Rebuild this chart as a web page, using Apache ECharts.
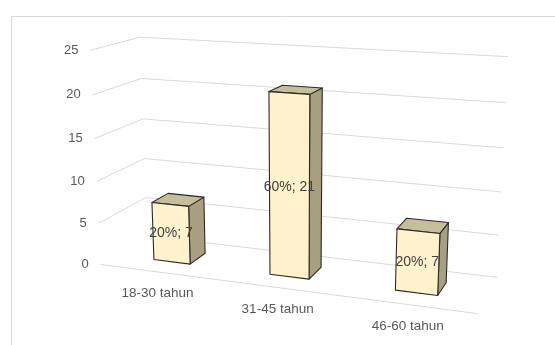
<!DOCTYPE html>
<html><head><meta charset="utf-8">
<script src="https://cdn.jsdelivr.net/npm/echarts@6/dist/echarts.min.js"></script>
<style>html,body{margin:0;padding:0;background:#fff}#c{width:555px;height:345px}</style>
</head><body><div id="c"></div>
<script>
// ---- data ----
const categories = ['18-30 tahun', '31-45 tahun', '46-60 tahun'];
const values = [7, 21, 7];
const percents = ['20%', '60%', '20%'];
const ticks = [0, 5, 10, 15, 20, 25];

// ---- layout: where the corners of the 3D plot box land on screen ----
// [u (category axis 0..1), v (value axis 0..1), w (depth 0 front..1 back), px, py]
const frameAnchors = [
  [0, 0, 0, 100.7, 264.5],
  [0, 1, 0, 90.0, 50.7],
  [0, 0.6, 0, 95.0, 138.3],
  [0, 1, 1, 140.0, 37.3],
  [0, 0.6, 1, 143.3, 118.3],
  [0, 0, 1, 147.0, 236.0],
  [1, 1, 1, 508.3, 56.7],
  [1, 0.6, 1, 503.3, 147.7],
  [1, 0, 1, 496.7, 277.7],
  [1, 0, 0, 477.3, 313.3]
];
const barWidthRatio = 0.32;
const barFront = 0.32, barBack = 0.68;

// ---- projective camera fitted to the frame (DLT, least squares) ----
function solveLinear(M, b) {
  const n = b.length;
  const A = M.map((r, i) => r.concat([b[i]]));
  for (let c = 0; c < n; c++) {
    let p = c;
    for (let r = c + 1; r < n; r++) if (Math.abs(A[r][c]) > Math.abs(A[p][c])) p = r;
    [A[c], A[p]] = [A[p], A[c]];
    for (let r = c + 1; r < n; r++) {
      const f = A[r][c] / A[c][c];
      for (let k = c; k <= n; k++) A[r][k] -= f * A[c][k];
    }
  }
  const x = new Array(n).fill(0);
  for (let r = n - 1; r >= 0; r--) {
    let s = A[r][n];
    for (let k = r + 1; k < n; k++) s -= A[r][k] * x[k];
    x[r] = s / A[r][r];
  }
  return x;
}
const S = 500;
const P = (function () {
  const rows = [], rhs = [];
  frameAnchors.forEach(([X, Y, Z, px, py]) => {
    const x = px / S, y = py / S;
    rows.push([X, Y, Z, 1, 0, 0, 0, 0, -x * X, -x * Y, -x * Z]); rhs.push(x);
    rows.push([0, 0, 0, 0, X, Y, Z, 1, -y * X, -y * Y, -y * Z]); rhs.push(y);
  });
  const n = 11;
  const ATA = Array.from({length: n}, () => new Array(n).fill(0));
  const ATb = new Array(n).fill(0);
  rows.forEach((r, i) => {
    for (let a = 0; a < n; a++) {
      ATb[a] += r[a] * rhs[i];
      for (let c = 0; c < n; c++) ATA[a][c] += r[a] * r[c];
    }
  });
  return solveLinear(ATA, ATb);
})();
function proj(u, v, w) {
  const d = P[8] * u + P[9] * v + P[10] * w + 1;
  return [S * (P[0] * u + P[1] * v + P[2] * w + P[3]) / d,
          S * (P[4] * u + P[5] * v + P[6] * w + P[7]) / d];
}

const FONT = '"Liberation Sans", Arial, sans-serif';
const chart = echarts.init(document.getElementById('c'), null, {renderer: 'canvas'});

function toUV(cs, pt) {
  return [(pt[0] - cs.x) / cs.width, (cs.y + cs.height - pt[1]) / cs.height];
}

chart.setOption({
  animation: false,
  grid: {left: 0, top: 0, width: 300, height: 300, show: false},
  xAxis: {type: 'category', data: categories, show: false},
  yAxis: {type: 'value', min: 0, max: 25, interval: 5, show: false},
  graphic: [{
    type: 'rect', silent: true, z: -10,
    shape: {x: 11.5, y: 16.5, width: 700, height: 500},
    style: {fill: 'none', stroke: '#d9d9d9', lineWidth: 1}
  }],
  series: [
    {
      type: 'custom', z: 1, silent: true,
      data: ticks.map(t => [0, t]),
      renderItem: function (params, api) {
        const cs = params.coordSys;
        const t = api.value(1);
        const v = toUV(cs, api.coord([0, t]))[1];
        const lineStyle = {stroke: '#d9d9d9', lineWidth: 1, fill: 'none'};
        const children = [];
        if (t === 0) {
          children.push({type: 'polyline', shape: {points: [proj(0, v, 1), proj(1, v, 1)]}, style: lineStyle});
          children.push({type: 'polyline', shape: {points: [proj(0, v, 0), proj(1, v, 0)]}, style: lineStyle});
        } else {
          children.push({type: 'polyline', shape: {points: [proj(0, v, 0), proj(0, v, 1), proj(1, v, 1)]}, style: lineStyle});
        }
        const lp = proj(0, v, 0);
        children.push({type: 'text', style: {
          text: String(t), x: lp[0] - 12, y: lp[1], align: 'right', verticalAlign: 'middle',
          fill: '#595959', font: '13px ' + FONT
        }});
        return {type: 'group', children: children};
      }
    },
    {
      type: 'custom', z: 2, silent: true,
      data: values.map((v, i) => [i, v]),
      renderItem: function (params, api) {
        const cs = params.coordSys;
        const i = api.value(0), val = api.value(1);
        const [uc, v1] = toUV(cs, api.coord([i, val]));
        const v0 = toUV(cs, api.coord([i, 0]))[1];
        const hw = api.size([1, 0])[0] / cs.width * barWidthRatio / 2;
        const u0 = uc - hw, u1 = uc + hw, w0 = barFront, w1 = barBack;
        const edge = {stroke: '#2b2b2b', lineWidth: 1.1, lineJoin: 'round'};
        const face = (pts, fill) => ({type: 'polygon', shape: {points: pts.map(p => proj(p[0], p[1], p[2]))},
          style: Object.assign({fill: fill}, edge)});
        const lab = proj(uc, (v0 + v1) / 2, w0);
        const cat = proj(uc, 0, 0);
        return {type: 'group', children: [
          face([[u1, v0, w0], [u1, v0, w1], [u1, v1, w1], [u1, v1, w0]], '#a89f81'),
          face([[u0, v1, w0], [u1, v1, w0], [u1, v1, w1], [u0, v1, w1]], '#c6bd9b'),
          face([[u0, v0, w0], [u1, v0, w0], [u1, v1, w0], [u0, v1, w0]], '#fff2cc'),
          {type: 'text', style: {text: percents[i] + '; ' + val, x: lab[0], y: lab[1],
            align: 'center', verticalAlign: 'middle', fill: '#404040', font: '14px ' + FONT}},
          {type: 'text', style: {text: categories[i], x: cat[0], y: cat[1] + 21.5,
            align: 'center', verticalAlign: 'middle', fill: '#595959', font: '13.5px ' + FONT}}
        ]};
      }
    }
  ]
});
</script>
</body></html>
